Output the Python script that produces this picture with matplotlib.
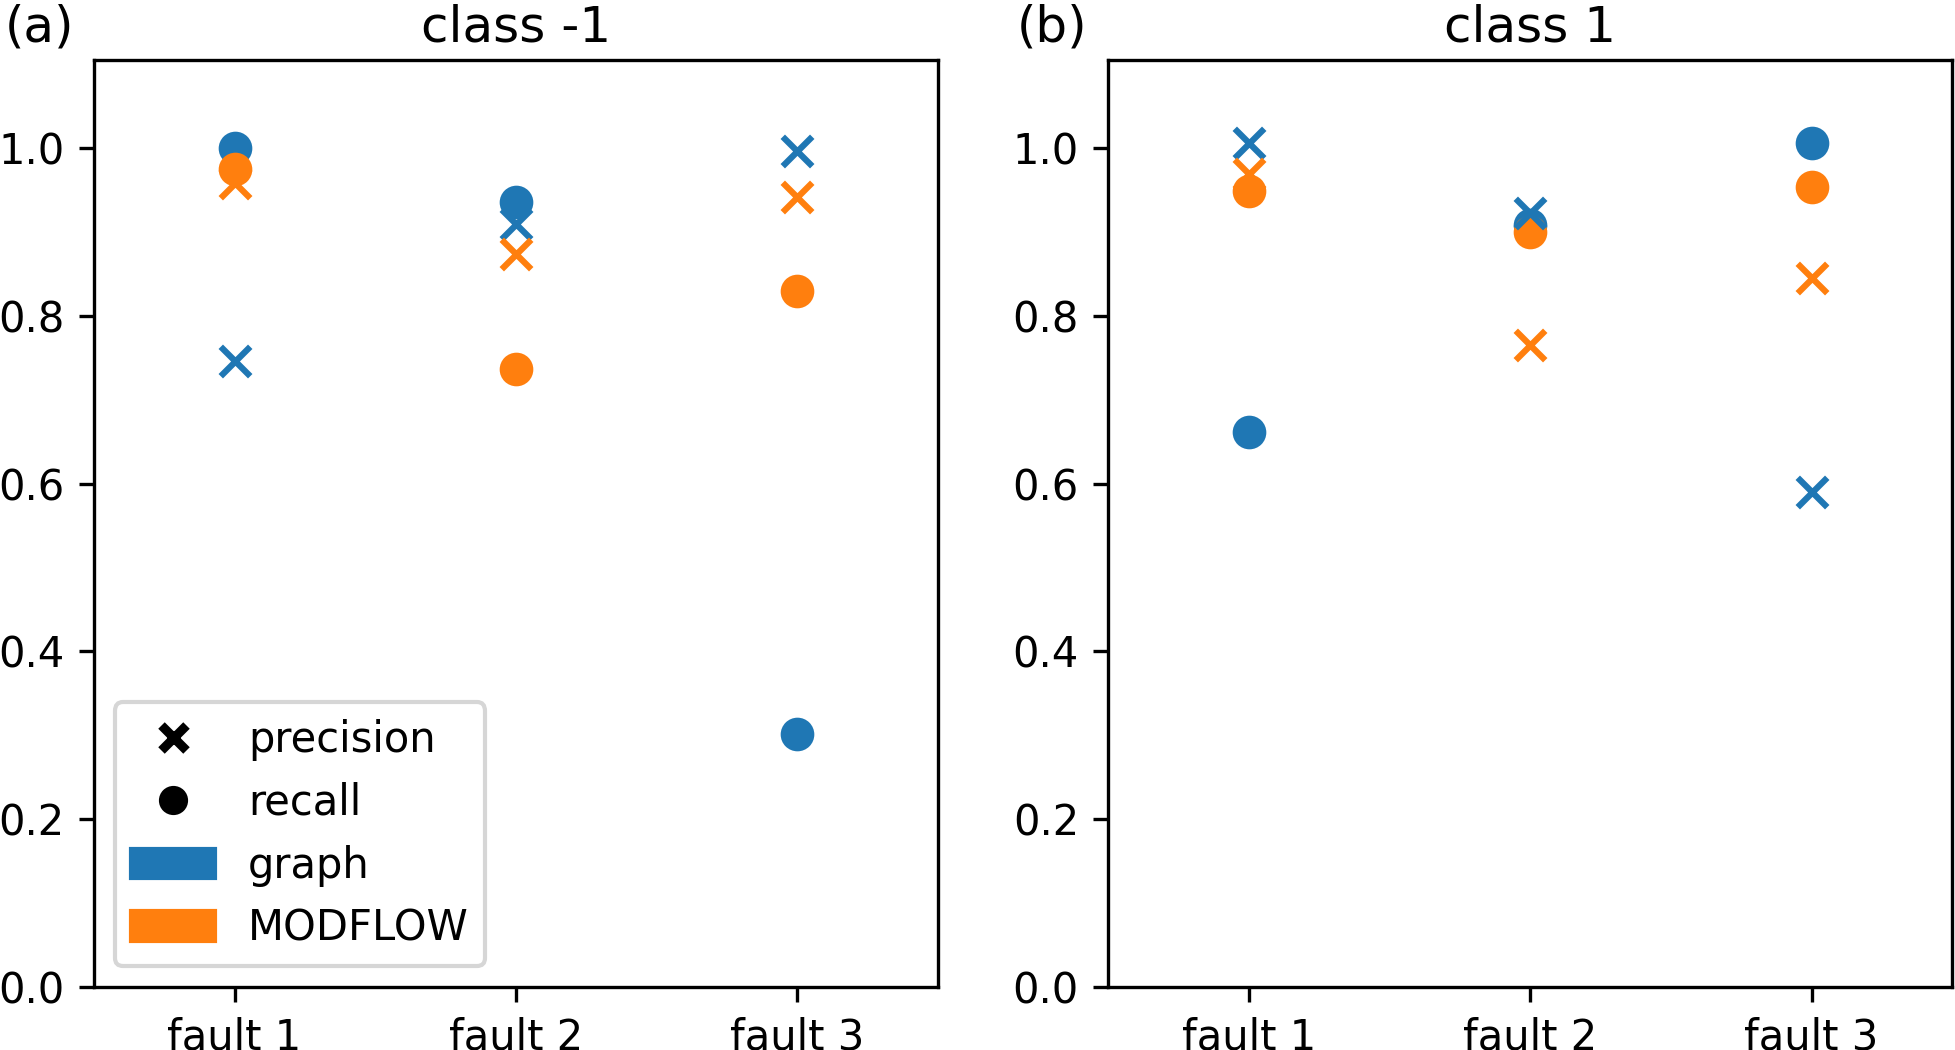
import matplotlib
matplotlib.use('Agg')
import matplotlib.pyplot as plt
from matplotlib.lines import Line2D
from matplotlib.patches import Patch

faults = ['fault 1', 'fault 2', 'fault 3']
titles = ['class -1', 'class 1']
letters = ['(a)', '(b)']

# class -1
graph_prec_a = [0.746, 0.909, 0.996]
graph_rec_a = [1.0, 0.936, 0.302]
mod_prec_a = [0.958, 0.874, 0.941]
mod_rec_a = [0.975, 0.737, 0.829]

# class 1
graph_prec_b = [1.006, 0.923, 0.590]
graph_rec_b = [0.661, 0.908, 1.006]
mod_prec_b = [0.969, 0.765, 0.845]
mod_rec_b = [0.949, 0.900, 0.954]

c_graph = '#1f77b4'
c_mod = '#ff7f0e'

fig = plt.figure(figsize=(6.52, 3.5), dpi=300)
ax1 = fig.add_axes([0.048, 0.06, 0.4316, 0.883])
ax2 = fig.add_axes([0.5665, 0.06, 0.4316, 0.883])

data = [(graph_prec_a, graph_rec_a, mod_prec_a, mod_rec_a),
        (graph_prec_b, graph_rec_b, mod_prec_b, mod_rec_b)]

x = list(range(len(faults)))
for ax, d, t, l, lx in zip([ax1, ax2], data, titles, letters, [-0.105, -0.108]):
    gp, gr, mp, mr = d
    ax.scatter(x, gr, marker='o', color=c_graph, s=50)
    ax.scatter(x, mr, marker='o', color=c_mod, s=50)
    ax.scatter(x, gp, marker='x', color=c_graph, s=50)
    ax.scatter(x, mp, marker='x', color=c_mod, s=50)
    ax.set_xticks(x)
    ax.set_xticklabels(faults)
    ax.set_xlim(-0.5, 2.5)
    ax.set_ylim(0, 1.105)
    ax.set_yticks([0.0, 0.2, 0.4, 0.6, 0.8, 1.0])
    ax.set_title(t, pad=4.5)
    ax.annotate(l, xy=(lx, 1.0), xycoords='axes fraction',
                xytext=(0, 4.5), textcoords='offset points',
                fontsize=12, va='baseline', ha='left')

handles = [Line2D([], [], marker='x', color='k', linestyle='', markersize=6, markeredgewidth=2.2),
           Line2D([], [], marker='o', color='k', linestyle='', markersize=6),
           Patch(color=c_graph),
           Patch(color=c_mod)]
ax1.legend(handles, ['precision', 'recall', 'graph', 'MODFLOW'], loc='lower left')

fig.savefig('out.png', dpi=300)
